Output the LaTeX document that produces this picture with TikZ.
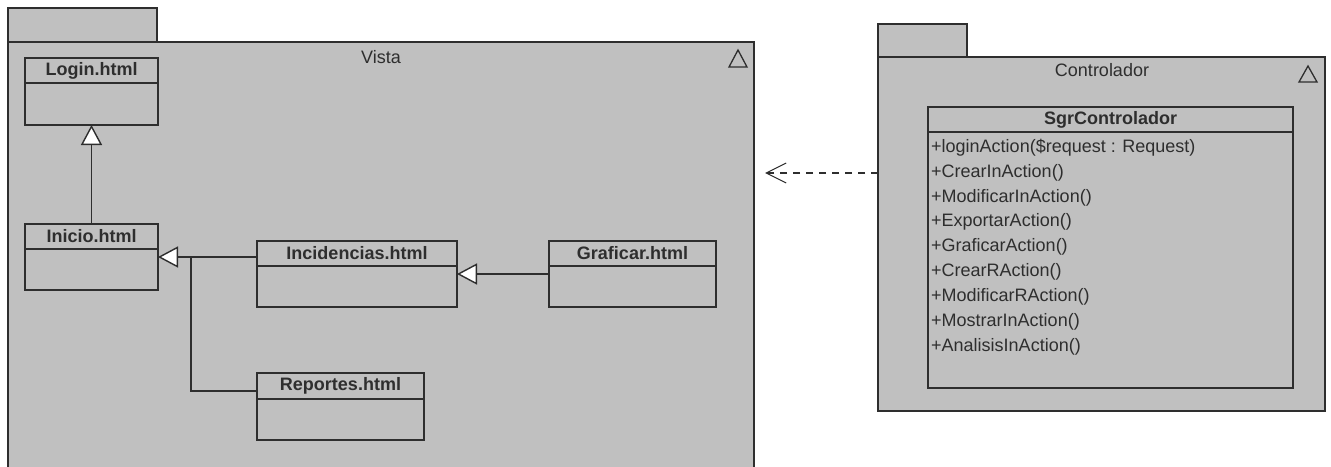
\documentclass[tikz,border=0pt]{standalone}
\usepackage{fontspec}
\setmainfont{Liberation Sans}
\usetikzlibrary{arrows.meta}
\definecolor{pkgfill}{HTML}{C0C0C0}
\definecolor{ink}{HTML}{2E2E2E}
\begin{document}
\begin{tikzpicture}[x=1pt,y=-1pt,
  ln/.style={draw=ink, line width=1.4pt},
  box/.style={draw=ink, line width=1.4pt, fill=pkgfill, inner sep=0pt, outer sep=0pt, anchor=north west},
  cname/.style={inner sep=0pt, text=ink, font=\fontsize{18}{21}\selectfont\bfseries},
  pname/.style={inner sep=0pt, text=ink, font=\fontsize{18}{21}\selectfont},
  meth/.style={inner sep=0pt, anchor=west, text=ink, font=\fontsize{18}{21}\selectfont},
  gen/.style={ln, -{Triangle[width=21pt,length=20pt,fill=white,line width=1.4pt]}},
  dep/.style={draw=ink, line width=1.1pt, dash pattern=on 7pt off 6pt, -{Straight Barb[width=20pt,length=20pt,line width=1.1pt]}},
  delta/.style={draw=ink, line width=1.3pt, line join=miter}
]
\useasboundingbox (0,0) rectangle (1331,466);
\clip (0,0) rectangle (1331,466);
\fill[white] (0,0) rectangle (1331,466);

% ---------------- Vista package ----------------
\path[box] (8,8) rectangle (157,42);
\node[box, minimum width=746pt, minimum height=440pt] (vista) at (8,42) {};
\node[pname] (vistaT) at (381,57) {Vista};
\draw[delta] (729,67) -- (738,50) -- (747,67) -- cycle;

% Login.html
\node[box, minimum width=133pt, minimum height=67pt] (login) at (25,58) {};
\draw[ln] ([yshift=-25pt]login.north west) -- ([yshift=-25pt]login.north east);
\node[cname] (loginT) at ([yshift=-12.5pt]login.north) {Login.html};

% Inicio.html
\node[box, minimum width=133pt, minimum height=66pt] (inicio) at (25,224) {};
\draw[ln] ([yshift=-25pt]inicio.north west) -- ([yshift=-25pt]inicio.north east);
\node[cname] (inicioT) at ([yshift=-12.5pt]inicio.north) {Inicio.html};

% Incidencias.html
\node[box, minimum width=200pt, minimum height=66pt] (inc) at (257,241) {};
\draw[ln] ([yshift=-25pt]inc.north west) -- ([yshift=-25pt]inc.north east);
\node[cname] (incT) at ([yshift=-12.5pt]inc.north) {Incidencias.html};

% Graficar.html
\node[box, minimum width=167pt, minimum height=66pt] (graf) at (549,241) {};
\draw[ln] ([yshift=-25pt]graf.north west) -- ([yshift=-25pt]graf.north east);
\node[cname] (grafT) at ([yshift=-12.5pt]graf.north) {Graficar.html};

% Reportes.html
\node[box, minimum width=167pt, minimum height=67pt] (rep) at (257,373) {};
\draw[ln] ([yshift=-26pt]rep.north west) -- ([yshift=-26pt]rep.north east);
\node[cname] (repT) at ([yshift=-13pt]rep.north) {Reportes.html};

% generalizations
\draw[gen] (inicio.north) -- (login.south);
\draw[gen] (inicio.east -| inc.west) -- (inicio.east);
\coordinate (joint) at (191,257);
\draw[ln] ([yshift=-18pt]rep.north west) -| (joint);
\draw[gen] (graf.west) -- (inc.east);

% ---------------- Controlador package ----------------
\path[box] (878,24) rectangle (967,57);
\node[box, minimum width=447pt, minimum height=354pt] (ctrl) at (878,57) {};
\node[pname] (ctrlT) at (1102,70) {Controlador};
\draw[delta] (1299,82) -- (1308,66) -- (1317,82) -- cycle;

\node[box, minimum width=365pt, minimum height=281pt] (sgr) at (928,107) {};
\draw[ln] ([yshift=-25pt]sgr.north west) -- ([yshift=-25pt]sgr.north east);
\node[cname] (sgrT) at ([yshift=-12.5pt]sgr.north) {SgrControlador};

\node[meth] (m1) at (931,148) {+loginAction(\$request : Request)};
\node[meth] (m2) at (931,173) {+CrearInAction()};
\node[meth] (m3) at (931,197.5) {+ModificarInAction()};
\node[meth] (m4) at (931,222) {+ExportarAction()};
\node[meth] (m5) at (931,247) {+GraficarAction()};
\node[meth] (m6) at (931,272) {+CrearRAction()};
\node[meth] (m7) at (931,297) {+ModificarRAction()};
\node[meth] (m8) at (931,322) {+MostrarInAction()};
\node[meth] (m9) at (931,347) {+AnalisisInAction()};

% dependency
\coordinate (dtip) at (765,173);
\draw[dep] (ctrl.west |- dtip) -- (dtip);
\end{tikzpicture}
\end{document}
